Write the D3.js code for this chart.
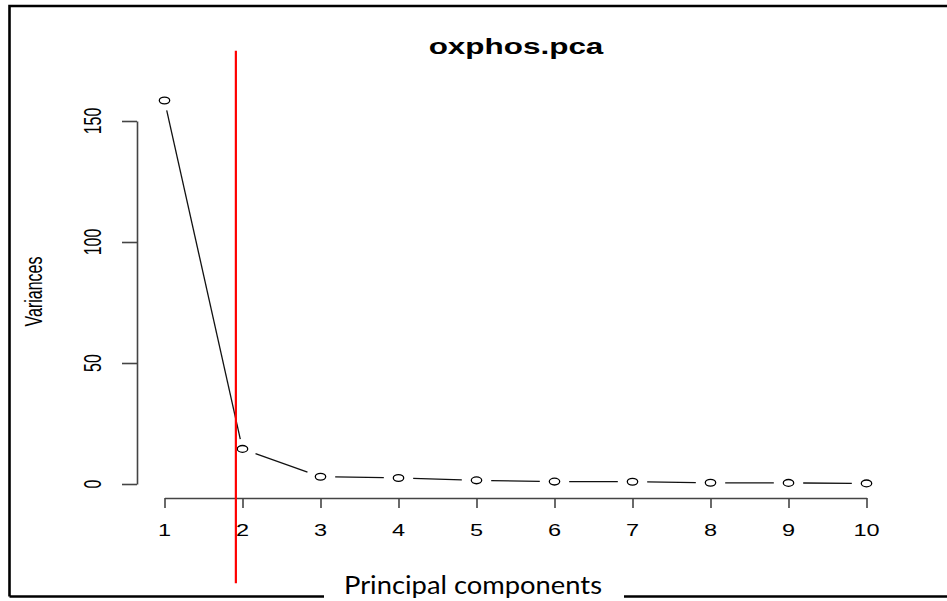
<!DOCTYPE html>
<html>
<head>
<meta charset="utf-8">
<script src="https://cdn.jsdelivr.net/npm/d3@7"></script>
<style>
  html, body { margin: 0; padding: 0; background: #fff; }
  svg { display: block; }
  .rtxt { font-family: "Liberation Sans", Arial, Helvetica, sans-serif; fill: #000; }
</style>
</head>
<body>
<svg id="chart" width="947" height="601"></svg>
<script>
// ---- data ----
const components = [1, 2, 3, 4, 5, 6, 7, 8, 9, 10];
const variances = [158.5, 14.5, 3.0, 2.5, 1.5, 1.0, 0.95, 0.5, 0.45, 0.25];
const xTickLabels = ["1", "2", "3", "4", "5", "6", "7", "8", "9", "10"];
const yTicks = [0, 50, 100, 150];
const yTickLabels = ["0", "50", "100", "150"];
const cutoffX = 1.915;            // red vertical marker
const cutoffSpan = [-41, 179];    // vertical extent of the marker in variance units
const title = "oxphos.pca";
const yLabel = "Variances";
const xLabel = "Principal components";

// ---- layout ----
const W = 947, H = 601;
const stretch = 1.47;   // horizontal stretch of the original R graphic
const svg = d3.select("#chart");

const x = d3.scaleLinear().domain([1, 10]).range([164.5, 866.5]);
const y = d3.scaleLinear().domain([0, 150]).range([484, 121]);

// frame (left, top, bottom; right edge is cropped)
const frame = svg.append("g").attr("stroke", "#000").attr("stroke-width", 2.6).attr("fill", "none");
frame.append("path").attr("d", `M9.5,596.5 L9.5,6 L${W + 5},6`);
frame.append("path").attr("d", `M9.5,596.5 L${W + 5},596.5`);

// y axis
const yAxis = d3.axisLeft(y).tickValues(yTicks).tickSize(15).tickSizeOuter(0).tickFormat("");
const gy = svg.append("g").attr("transform", "translate(137,0)").call(yAxis);
gy.selectAll("path, line").attr("stroke", "#444").attr("stroke-width", 1.6);
gy.selectAll("text").remove();
svg.append("g").selectAll("text").data(yTicks).join("text")
  .attr("class", "rtxt")
  .attr("font-size", 16)
  .attr("text-anchor", "middle")
  .attr("transform", d => `translate(101,${y(d)}) scale(${stretch},1) rotate(-90)`)
  .text((d, i) => yTickLabels[i]);

// x axis
const xAxis = d3.axisBottom(x).tickValues(components).tickSize(10).tickSizeOuter(0).tickFormat("");
const gx = svg.append("g").attr("transform", "translate(0,498)").call(xAxis);
gx.selectAll("path, line").attr("stroke", "#444").attr("stroke-width", 1.6);
gx.selectAll("text").remove();
svg.append("g").selectAll("text").data(components).join("text")
  .attr("class", "rtxt")
  .attr("font-size", 16)
  .attr("text-anchor", "middle")
  .attr("transform", d => `translate(${x(d)},536) scale(${stretch},1)`)
  .text((d, i) => xTickLabels[i]);

// title
svg.append("text")
  .attr("class", "rtxt")
  .attr("font-size", 22)
  .attr("font-weight", "bold")
  .attr("text-anchor", "middle")
  .attr("transform", `translate(516,54) scale(1.43,1)`)
  .text(title);

// y label
svg.append("text")
  .attr("class", "rtxt")
  .attr("font-size", 16)
  .attr("text-anchor", "middle")
  .attr("transform", `translate(41.5,291.5) scale(${stretch},1) rotate(-90)`)
  .text(yLabel);

// connecting segments with gaps around points (R type = "b")
const pts = components.map((c, i) => [x(c), y(variances[i])]);
const gap = 10;
const segs = [];
for (let i = 0; i < pts.length - 1; i++) {
  const [x0, y0] = pts[i], [x1, y1] = pts[i + 1];
  const du = (x1 - x0) / stretch, dv = y1 - y0;
  const len = Math.hypot(du, dv);
  if (len <= 2 * gap) continue;
  const ux = du / len, uy = dv / len;
  segs.push([
    x0 + ux * gap * stretch, y0 + uy * gap,
    x1 - ux * gap * stretch, y1 - uy * gap
  ]);
}
svg.append("g").selectAll("line").data(segs).join("line")
  .attr("x1", d => d[0]).attr("y1", d => d[1])
  .attr("x2", d => d[2]).attr("y2", d => d[3])
  .attr("stroke", "#111").attr("stroke-width", 1.3);

// points (open circles, stretched)
svg.append("g").selectAll("ellipse").data(components).join("ellipse")
  .attr("cx", d => x(d))
  .attr("cy", (d, i) => y(variances[i]))
  .attr("rx", 5.2).attr("ry", 3.4)
  .attr("fill", "none").attr("stroke", "#000").attr("stroke-width", 1.3);

// red cutoff line
svg.append("line")
  .attr("x1", x(cutoffX)).attr("x2", x(cutoffX))
  .attr("y1", y(cutoffSpan[1])).attr("y2", y(cutoffSpan[0]))
  .attr("stroke", "#ff0000").attr("stroke-width", 2.2);

// x label box (covers bottom frame line)
svg.append("rect")
  .attr("x", 324).attr("y", 560).attr("width", 300).attr("height", 41)
  .attr("fill", "#fff");
svg.append("text")
  .attr("x", 344).attr("y", 594)
  .attr("font-family", "Lato, 'Open Sans', sans-serif")
  .attr("font-size", 25)
  .attr("fill", "#000")
  .attr("textLength", 258)
  .attr("lengthAdjust", "spacingAndGlyphs")
  .text(xLabel);
</script>
</body>
</html>
